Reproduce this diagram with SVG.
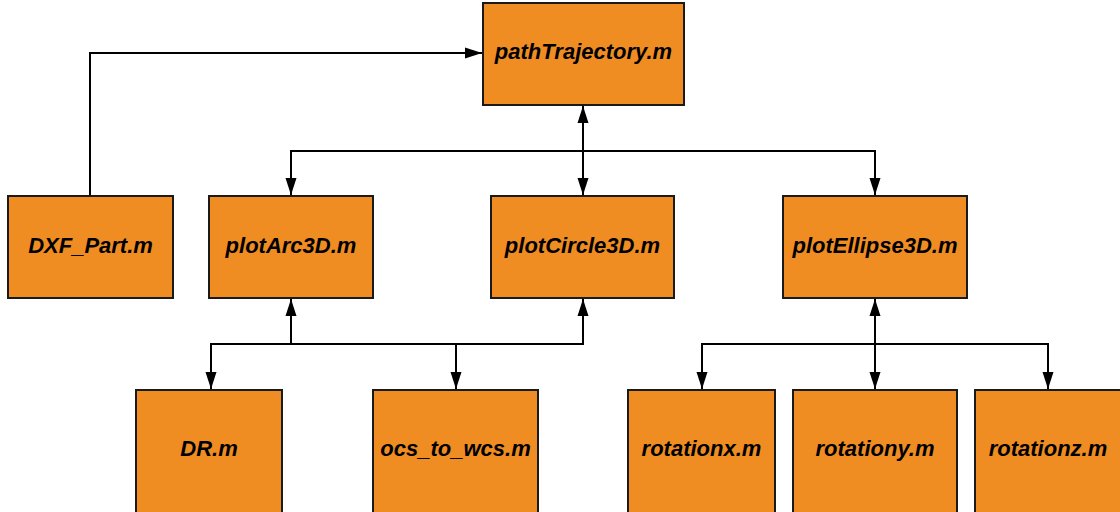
<svg xmlns="http://www.w3.org/2000/svg" width="1120" height="512" viewBox="0 0 1120 512">
<style>
.box{fill:#F08D22;stroke:#1a1a1a;stroke-width:2}
.lbl{font-family:"Liberation Sans",Arial,sans-serif;font-size:22px;font-weight:bold;font-style:italic;fill:#000;text-anchor:middle;dominant-baseline:central}
.ln{fill:none;stroke:#000;stroke-width:2}
</style>
<defs>
<marker id="ah" markerUnits="userSpaceOnUse" markerWidth="18" markerHeight="12" refX="17" refY="6" orient="auto-start-reverse">
<path d="M0,0.5 L17,6 L0,11.5 Z" fill="#000"/>
</marker>
</defs>
<rect width="1120" height="512" fill="#fff"/>
<g id="connectors">
<path class="ln" d="M90,196 V53 H482" marker-end="url(#ah)"/>
<path class="ln" d="M583,106 V195" marker-start="url(#ah)" marker-end="url(#ah)"/>
<path class="ln" d="M291,195 V151 H875 V195" marker-start="url(#ah)" marker-end="url(#ah)"/>
<path class="ln" d="M291,299 V344" marker-start="url(#ah)"/>
<path class="ln" d="M211,389 V344 H583 V299" marker-start="url(#ah)" marker-end="url(#ah)"/>
<path class="ln" d="M456,344 V389" marker-end="url(#ah)"/>
<path class="ln" d="M875,299 V389" marker-start="url(#ah)" marker-end="url(#ah)"/>
<path class="ln" d="M702,389 V344 H1048 V389" marker-start="url(#ah)" marker-end="url(#ah)"/>
</g>
<g id="pathTrajectory"><rect class="box" x="483" y="3" width="201" height="102"/><text class="lbl" x="583.5" y="51">pathTrajectory.m</text></g>
<g id="DXF_Part"><rect class="box" x="8" y="196" width="165" height="102"/><text class="lbl" x="90.5" y="245">DXF_Part.m</text></g>
<g id="plotArc3D"><rect class="box" x="209" y="196" width="164" height="102"/><text class="lbl" x="291" y="245">plotArc3D.m</text></g>
<g id="plotCircle3D"><rect class="box" x="491" y="196" width="183" height="102"/><text class="lbl" x="582.5" y="245">plotCircle3D.m</text></g>
<g id="plotEllipse3D"><rect class="box" x="783" y="196" width="184" height="102"/><text class="lbl" x="875" y="245">plotEllipse3D.m</text></g>
<g id="DR"><rect class="box" x="136" y="390" width="146" height="130"/><text class="lbl" x="209" y="448">DR.m</text></g>
<g id="ocs_to_wcs"><rect class="box" x="373" y="390" width="165" height="130"/><text class="lbl" x="455.5" y="448">ocs_to_wcs.m</text></g>
<g id="rotationx"><rect class="box" x="628" y="390" width="147" height="130"/><text class="lbl" x="701.5" y="448">rotationx.m</text></g>
<g id="rotationy"><rect class="box" x="793" y="390" width="164" height="130"/><text class="lbl" x="875" y="448">rotationy.m</text></g>
<g id="rotationz"><rect class="box" x="975" y="390" width="160" height="130"/><text class="lbl" x="1048" y="448">rotationz.m</text></g>
</svg>
